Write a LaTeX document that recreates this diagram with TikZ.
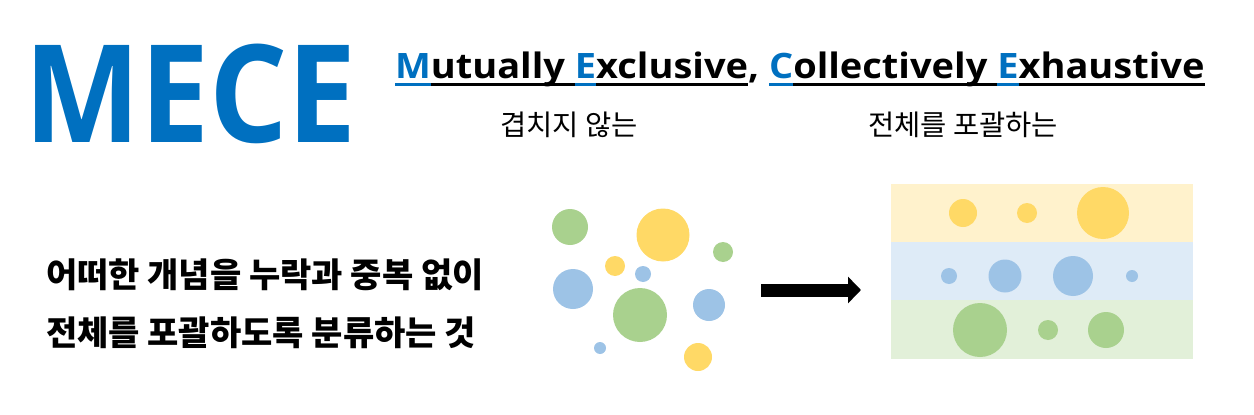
\documentclass[tikz,border=0pt]{standalone}
\usepackage{fontspec}
\usepackage{xcolor}
\usetikzlibrary{arrows.meta}
\setmainfont{Open Sans}
\newfontfamily\kr{Noto Sans CJK KR}
\definecolor{meceblue}{HTML}{0070C0}
\definecolor{ylwdot}{HTML}{FFD966}
\definecolor{bludot}{HTML}{9DC3E6}
\definecolor{grndot}{HTML}{A9D18E}
\definecolor{ylwband}{HTML}{FFF2CC}
\definecolor{bluband}{HTML}{DEEBF7}
\definecolor{grnband}{HTML}{E2F0D9}
% underline at a fixed depth, in the current colour
\newcommand\ulpart[1]{\setbox0\hbox{#1}\rlap{\rule[-7.5pt]{\wd0}{2.5pt}}\box0}

\begin{document}
\begin{tikzpicture}[x=1pt,y=-1pt,
  txt/.style={inner sep=0pt,outer sep=0pt},
  sub/.style={txt,font=\kr\fontsize{28.5}{32}\selectfont},
  defn/.style={txt,font=\kr\bfseries\fontsize{34}{38}\selectfont}]
  \useasboundingbox (0,0) rectangle (1254,415);
  % heading
  \node[txt,anchor=base west,text=meceblue,font=\bfseries\fontsize{136}{136}\selectfont] (mece) at (24,142) {\scalebox{0.906}[1]{MECE}};
  \node[txt,anchor=base west,font=\bfseries\fontsize{35}{38}\selectfont] (full) at (395,78)
    {\scalebox{1.086}[1]{\textcolor{meceblue}{\ulpart{M}}\ulpart{utually }\textcolor{meceblue}{\ulpart{E}}\ulpart{xclusive},
     \textcolor{meceblue}{\ulpart{C}}\ulpart{ollectively }\textcolor{meceblue}{\ulpart{E}}\ulpart{xhaustive}}};
  \node[sub,anchor=base] (me) at (569,135) {겹치지 않는};
  \node[sub,anchor=base] (ce) at (963,135) {전체를 포괄하는};
  % definition
  \node[defn,anchor=base west] (def1) at (46,287) {어떠한 개념을 누락과 중복 없이};
  \node[defn,anchor=base west] (def2) at (46,345) {전체를 포괄하도록 분류하는 것};
  % scattered dots
  \fill[grndot] (570,227) circle (18);
  \fill[ylwdot] (663,235) circle (26.5);
  \fill[grndot] (723,252) circle (10);
  \fill[ylwdot] (615,266) circle (10);
  \fill[bludot] (643,274) circle (8);
  \fill[bludot] (573,289) circle (20);
  \fill[grndot] (640,315) circle (27);
  \fill[bludot] (709,305) circle (16);
  \fill[bludot] (600,348) circle (6);
  \fill[ylwdot] (698,357) circle (14);
  % arrow
  \coordinate (arrS) at (761,290);
  \coordinate (arrE) at (861,290);
  \draw[line width=13pt,-{Triangle[length=13pt,width=26pt]}] (arrS) -- (arrE);
  % sorted bands
  \fill[ylwband] (891,184) rectangle (1193,242);
  \fill[bluband] (891,242) rectangle (1193,300);
  \fill[grnband] (891,300) rectangle (1193,359);
  \fill[ylwdot] (963,213) circle (14);
  \fill[ylwdot] (1027,213) circle (10);
  \fill[ylwdot] (1103,213) circle (26);
  \fill[bludot] (949,276) circle (8);
  \fill[bludot] (1005,276) circle (16.5);
  \fill[bludot] (1073,276) circle (20);
  \fill[bludot] (1132,276) circle (6);
  \fill[grndot] (980,330) circle (27);
  \fill[grndot] (1048,330) circle (10);
  \fill[grndot] (1106,330) circle (18);
\end{tikzpicture}
\end{document}
